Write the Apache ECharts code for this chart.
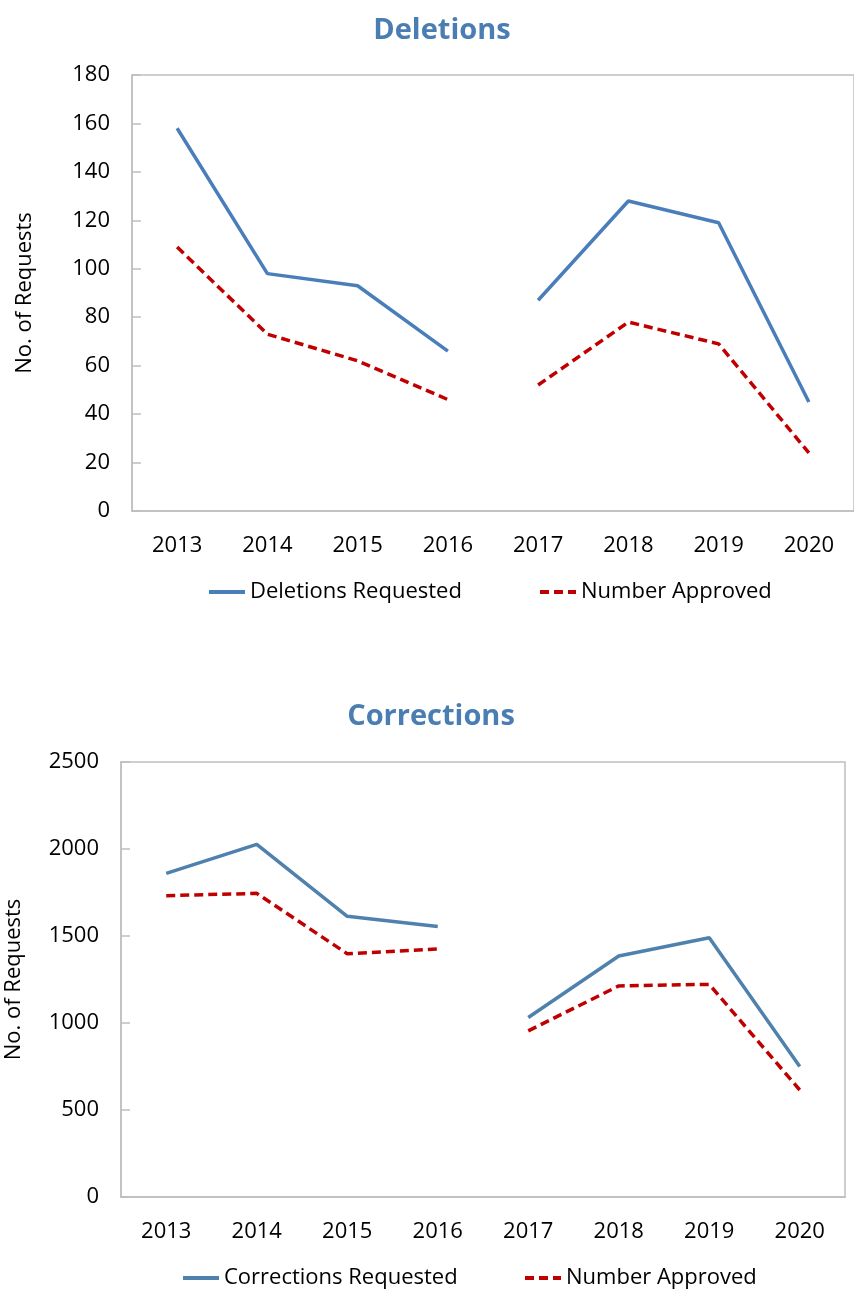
<!DOCTYPE html>
<html>
<head>
<meta charset="utf-8">
<script src="https://cdn.jsdelivr.net/npm/echarts@6/dist/echarts.min.js"></script>
<style>
  html, body { margin: 0; padding: 0; background: #fff; }
  #main { width: 854px; height: 1290px; }
</style>
</head>
<body>
<div id="main"></div>
<script>
var years = ['2013', '2014', '2015', '2016', '2017', '2018', '2019', '2020'];
var delTicks = [0, 20, 40, 60, 80, 100, 120, 140, 160, 180];
var corTicks = [0, 500, 1000, 1500, 2000, 2500];

// values; the line breaks between 2016 and 2017
var deletionsRequested = [158, 98, 93, 66, 87, 128, 119, 45];
var deletionsApproved = [109, 73, 62, 46, 52, 78, 69, 24];
var correctionsRequested = [1860, 2027, 1613, 1555, 1032, 1385, 1490, 750];
var correctionsApproved = [1732, 1745, 1398, 1425, 955, 1213, 1222, 615];

var font = '"Open Sans", "Noto Sans", sans-serif';
var axisGrey = '#bfbfbf';
var red = '#c00000';

// split a series in two parts so the line has a gap between 2016 and 2017
function part(arr, first) {
	return arr.map(function (v, i) {
		if (first) return i < 4 ? v : '-';
		return i >= 4 ? v : '-';
	});
}

function lineSeries(name, data, color, dashed, idx) {
	var style = { color: color, width: 3.5 };
	if (dashed) style.type = [9, 5];
	return [true, false].map(function (first) {
		return {
			name: name,
			type: 'line',
			xAxisIndex: idx,
			yAxisIndex: idx,
			data: part(data, first),
			symbol: 'none',
			lineStyle: style,
			itemStyle: { color: color },
			silent: true
		};
	});
}

function xAxisFor(idx) {
	return {
		type: 'category',
		gridIndex: idx,
		data: years,
		boundaryGap: true,
		axisLine: { lineStyle: { color: axisGrey, width: 1.5 } },
		axisTick: { inside: true, length: 9, lineStyle: { color: axisGrey, width: 1.5 } },
		axisLabel: { color: '#000', fontSize: 22, fontFamily: font, margin: 24 }
	};
}

function yAxisFor(idx, ticks, gap) {
	return {
		type: 'value',
		gridIndex: idx,
		min: ticks[0],
		max: ticks[ticks.length - 1],
		interval: ticks[1] - ticks[0],
		name: 'No. of Requests',
		nameLocation: 'middle',
		nameGap: gap,
		nameTextStyle: { color: '#000', fontSize: 22, fontFamily: font },
		axisLine: { show: true, lineStyle: { color: axisGrey, width: 1.5 } },
		axisTick: { show: true, inside: true, length: 9, lineStyle: { color: axisGrey, width: 1.5 } },
		splitLine: { show: false },
		axisLabel: {
			color: '#000', fontSize: 22, fontFamily: font, margin: 22,
			formatter: function (v) { return String(v); }
		}
	};
}

function legendFor(name, left, top) {
	return {
		data: [name],
		left: left,
		top: top,
		padding: 0,
		itemWidth: 36,
		itemHeight: 14,
		itemGap: 4,
		selectedMode: false,
		itemStyle: { opacity: 0 },
		lineStyle: { width: 4 },
		textStyle: { color: '#000', fontSize: 22, fontFamily: font }
	};
}

var chart = echarts.init(document.getElementById('main'));
var option = {
	animation: false,
	backgroundColor: '#fff',
	title: [
		{ text: 'Deletions', left: 437, top: 11, textAlign: 'center',
		  textStyle: { color: '#4a7eb3', fontSize: 29, fontWeight: 'bold', fontFamily: font } },
		{ text: 'Corrections', left: 426, top: 697, textAlign: 'center',
		  textStyle: { color: '#4a7eb3', fontSize: 29, fontWeight: 'bold', fontFamily: font } }
	],
	legend: [
		legendFor('Deletions Requested', 207, 581),
		legendFor('Number Approved', 538, 581),
		legendFor('Corrections Requested', 181, 1267),
		legendFor('Number Approved ', 523, 1267)
	],
	grid: [
		{ left: 132, right: 0, top: 75, height: 436, show: true, borderColor: axisGrey, borderWidth: 1.5, outerBoundsMode: 'none' },
		{ left: 121, right: 9, top: 762, height: 435, show: true, borderColor: axisGrey, borderWidth: 1.5, outerBoundsMode: 'none' }
	],
	xAxis: [xAxisFor(0), xAxisFor(1)],
	yAxis: [yAxisFor(0, delTicks, 96), yAxisFor(1, corTicks, 96)],
	series: [].concat(
		lineSeries('Deletions Requested', deletionsRequested, '#4a7ebb', false, 0),
		lineSeries('Number Approved', deletionsApproved, red, true, 0),
		lineSeries('Corrections Requested', correctionsRequested, '#4f81ad', false, 1),
		lineSeries('Number Approved ', correctionsApproved, red, true, 1)
	)
};
chart.setOption(option);
</script>
</body>
</html>
